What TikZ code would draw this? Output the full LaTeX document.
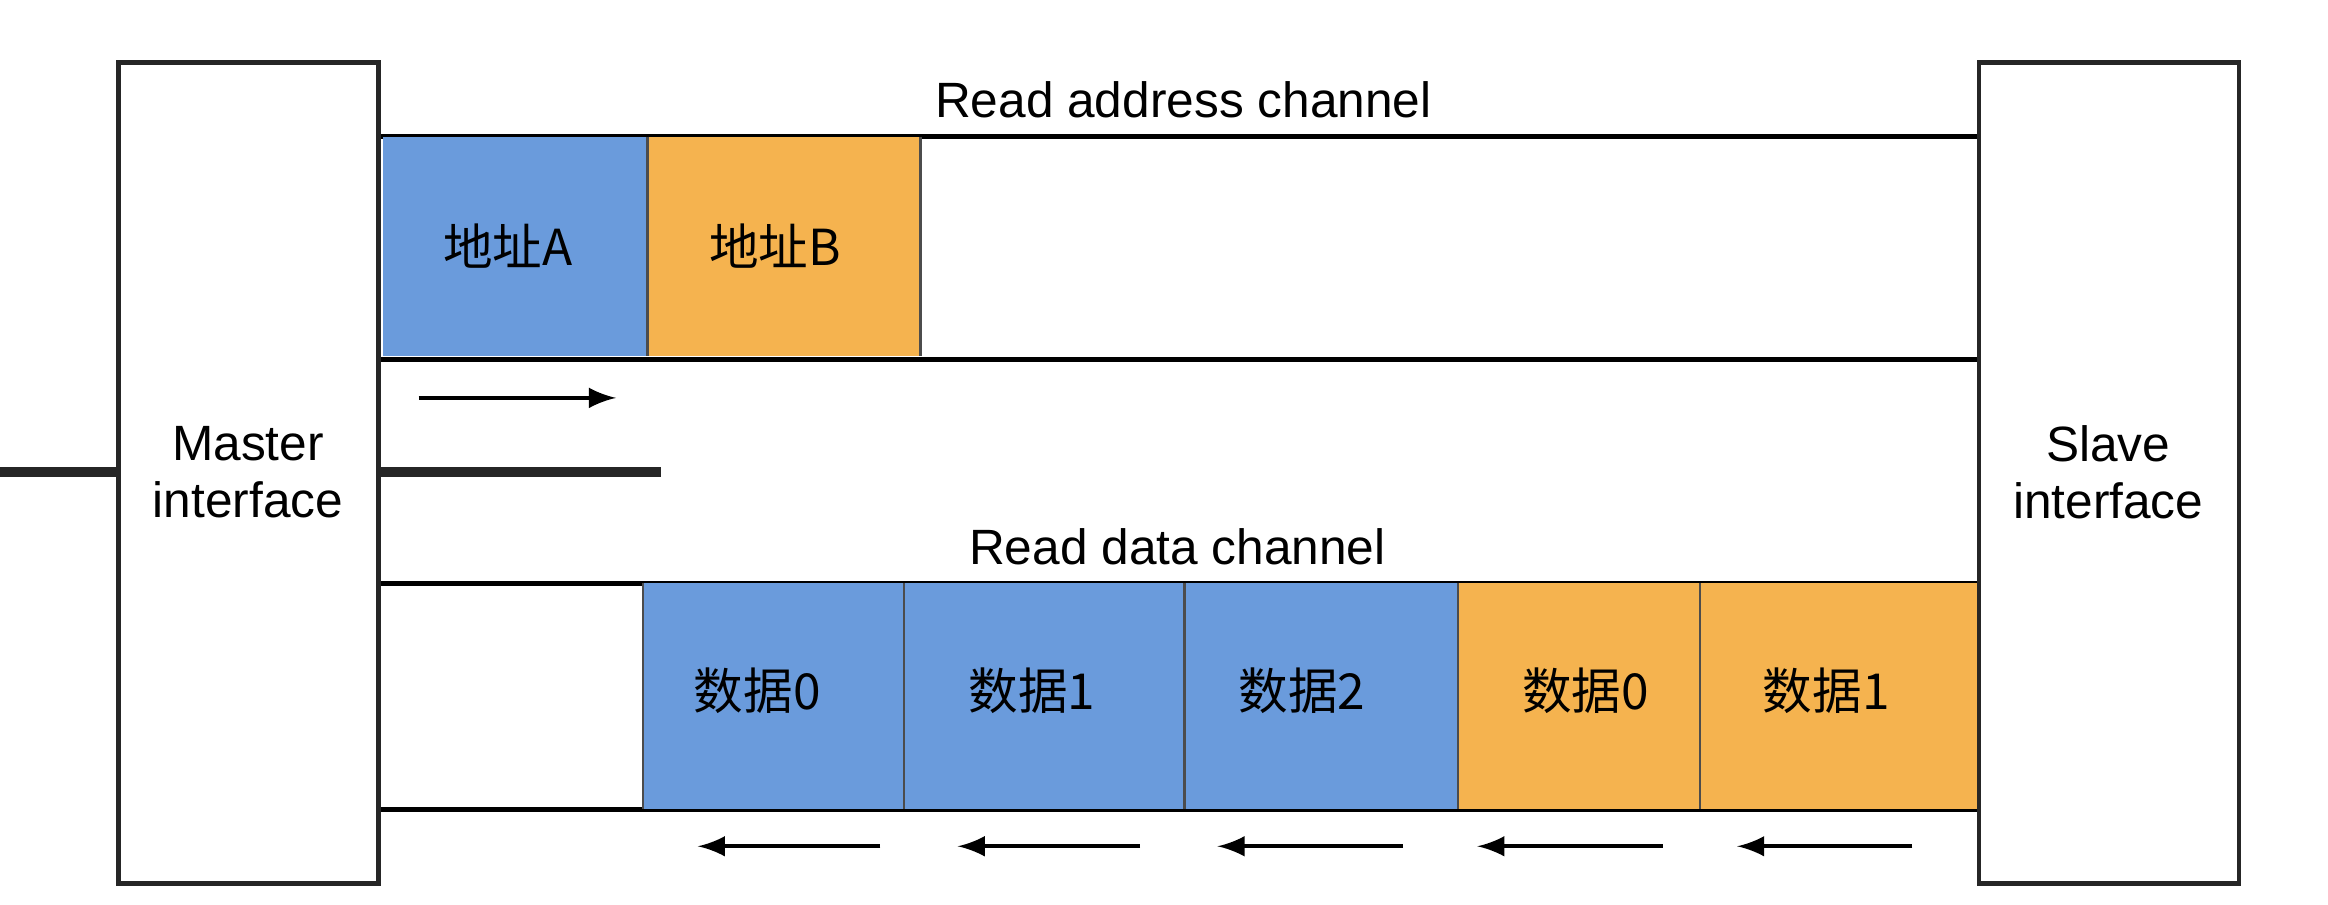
\documentclass[tikz,border=0pt]{standalone}
\usepackage{fontspec}
\setmainfont{Liberation Sans}
\newfontfamily\cjk{Noto Sans CJK SC}
\begin{document}
\begin{tikzpicture}[x=0.01cm,y=-0.01cm,
  iface/.style={draw=black!85,line width=0.9pt,fill=white},
  blk/.style={draw=black!70,line width=0.5pt},
  lbl/.style={font=\fontsize{9.5}{11}\selectfont\cjk},
  ttl/.style={font=\fontsize{9.5}{11}\selectfont},
  arr/.style={-latex,line width=0.8pt}]
\definecolor{bl}{HTML}{6A9BDC}
\definecolor{og}{HTML}{F5B34F}
\useasboundingbox (0,0) rectangle (1568,609);
% channels
\draw[line width=0.9pt] (255,92) -- (1333,92) (255,242) -- (1333,242);
\draw[line width=0.9pt] (255,393) -- (1333,393) (255,545) -- (1333,545);
\node[ttl] (rac) at (797,67) {Read address channel};
\node[ttl] (rdc) at (793,368) {Read data channel};
% address blocks
\node[blk,fill=bl,minimum width=178\pgflinewidth,anchor=north west,inner sep=0] (a) at (258,92) {};
\fill[bl] (258,92) rectangle (436,240);
\fill[og] (436,92) rectangle (620,240);
\draw[black!70,line width=0.5pt] (436,92) -- (436,240) (620,92)--(620,240);
\node[lbl] (aA) at (342,166) {地址A};
\node[lbl] (aB) at (522,166) {地址B};
% data blocks
\fill[bl] (433,393) rectangle (982,545);
\fill[og] (982,393) rectangle (1333,545);
\foreach \x in {433,609,798,982,1145} \draw[black!70,line width=0.5pt] (\x,393) -- (\x,545);
\node[lbl] (d0) at (510,465) {数据0};
\node[lbl] (d1) at (695,465) {数据1};
\node[lbl] (d2) at (877,465) {数据2};
\node[lbl] (e0) at (1068,465) {数据0};
\node[lbl] (e1) at (1230,465) {数据1};
% interfaces
\node[iface,minimum width=175\pgflinewidth,inner sep=0] (m) at (167,318) {};
\draw[iface] (80,42) rectangle (255,595);
\draw[iface] (1333,42) rectangle (1508,595);
\node[ttl,align=center] (mt) at (167,318) {Master\\interface};
\node[ttl,align=center] (st) at (1420,318) {Slave\\interface};
% arrows
\coordinate (r1) at (282,268); \coordinate (r2) at (415,268);
\draw[arr] (r1) -- (r2);
\foreach \a/\b in {593/470,768/645,945/820,1120/995,1288/1170}{
  \coordinate (s\a) at (\a,570); \coordinate (t\a) at (\b,570);
  \draw[arr] (s\a) -- (t\a);}
\end{tikzpicture}
\end{document}
